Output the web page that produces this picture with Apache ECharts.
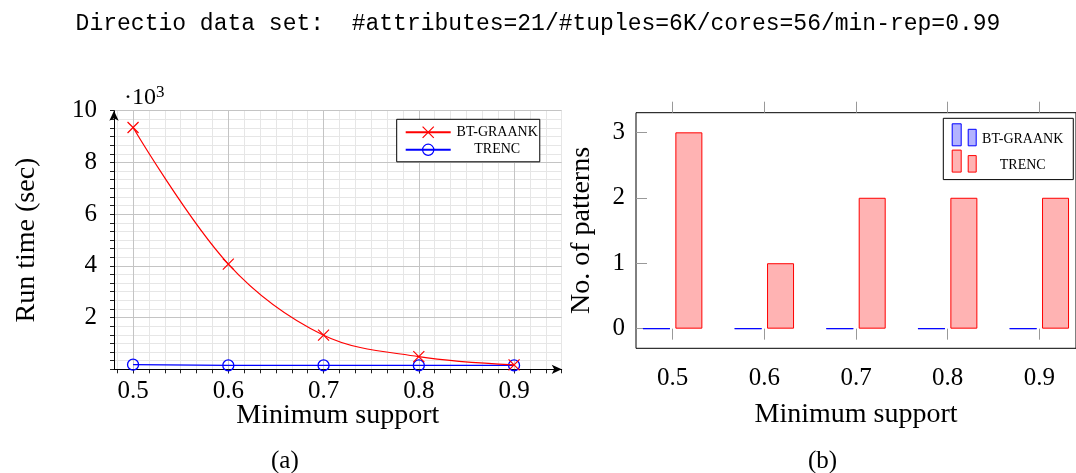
<!DOCTYPE html>
<html>
<head>
<meta charset="utf-8">
<script src="https://cdn.jsdelivr.net/npm/echarts@6/dist/echarts.min.js"></script>
<style>
  html, body { margin: 0; padding: 0; background: #fff; }
  #chart { width: 1076px; height: 473px; }
</style>
</head>
<body>
<div id="chart"></div>
<script>
// Minimum support levels shared by both panels
const minSupport = [0.5, 0.6, 0.7, 0.8, 0.9];
// (a) run time in seconds
const btGraankRunTime = [9350, 4070, 1320, 490, 170];
const trencRunTime = [180, 150, 150, 150, 150];
// (b) number of extracted patterns
const btGraankPatterns = [0, 0, 0, 0, 0];
const trencPatterns = [3, 1, 2, 2, 2];
// tick labels
const runTimeTicks = [2000, 4000, 6000, 8000, 10000];
const patternTicks = [0, 1, 2, 3];
const titleText = 'Directio data set:  #attributes=21/#tuples=6K/cores=56/min-rep=0.99';

const SERIF = '"Liberation Serif", "Times New Roman", serif';
const MONO = '"Liberation Mono", "DejaVu Sans Mono", monospace';

// minor vertical grid lines: six subdivisions per 0.1 step
const minorSupport = [];
for (let k = 29; k <= 57; k++) minorSupport.push(k / 60);

const pairs = (xs, ys) => xs.map((x, i) => [x, ys[i]]);
const barSuffix = ' patterns';

const tickFont = { fontFamily: SERIF, fontSize: 25, color: '#000' };
const nameFont = { fontFamily: SERIF, fontSize: 28, color: '#000' };

const chart = echarts.init(document.getElementById('chart'), null, { renderer: 'canvas' });

chart.setOption({
  animation: false,
  backgroundColor: '#fff',
  title: {
    text: titleText,
    left: 'center',
    top: 7,
    textStyle: { fontFamily: MONO, fontSize: 23, fontWeight: 'normal', color: '#000' }
  },
  grid: [
    { left: 114, top: 110.7, width: 447.7, height: 258.6 },
    { left: 636, top: 112.7, width: 447.7, height: 235.6, show: true, borderColor: '#000', borderWidth: 1 }
  ],
  xAxis: [
    {
      gridIndex: 0, type: 'value', min: 0.48, max: 0.95, position: 'bottom', z: 3,
      axisLine: { show: true, symbol: ['none', 'arrow'], symbolSize: [7, 10], lineStyle: { color: '#000', width: 1 } },
      axisTick: { show: true, customValues: minSupport, length: 4, lineStyle: { color: '#222' } },
      axisLabel: Object.assign({ customValues: minSupport, margin: 10, formatter: v => v.toFixed(1) }, tickFont),
      splitLine: { show: true, lineStyle: { color: '#c4c4c4', width: 1 } },
      name: 'Minimum support', nameLocation: 'middle', nameGap: 32, nameMoveOverlap: false,
      nameTextStyle: nameFont
    },
    {
      gridIndex: 0, type: 'value', min: 0.48, max: 0.95, position: 'bottom', z: 1,
      axisLine: { show: false },
      axisTick: { show: true, customValues: minorSupport, length: 4, lineStyle: { color: '#222' } },
      axisLabel: { show: false },
      splitLine: { show: true, lineStyle: { color: '#e6e6e6', width: 1 } }
    },
    {
      gridIndex: 1, type: 'value', min: 0.46, max: 0.94, position: 'bottom',
      axisLine: { show: false },
      axisTick: { show: true, customValues: minSupport, length: 11, lineStyle: { color: '#999' } },
      axisLabel: Object.assign({ customValues: minSupport, margin: 18, formatter: v => v.toFixed(1) }, tickFont),
      splitLine: { show: false },
      name: 'Minimum support', nameLocation: 'middle', nameGap: 52, nameTextStyle: nameFont
    },
    {
      gridIndex: 1, type: 'value', min: 0.46, max: 0.94, position: 'top',
      axisLine: { show: false },
      axisTick: { show: true, customValues: minSupport, length: 11, lineStyle: { color: '#999' } },
      axisLabel: { show: false },
      splitLine: { show: false }
    }
  ],
  yAxis: [
    {
      gridIndex: 0, type: 'value', min: 0, max: 10000, interval: 2000, z: 2,
      axisLine: { show: true, symbol: ['none', 'arrow'], symbolSize: [7, 10], lineStyle: { color: '#000', width: 1 } },
      axisTick: { show: true, length: 4, lineStyle: { color: '#222' } },
      minorTick: { show: true, splitNumber: 6, length: 4, lineStyle: { color: '#222' } },
      splitLine: { show: true, lineStyle: { color: '#c4c4c4', width: 1 } },
      minorSplitLine: { show: true, lineStyle: { color: '#e6e6e6', width: 1 } },
      axisLabel: Object.assign({ customValues: runTimeTicks, margin: 17, formatter: v => String(v / 1000) }, tickFont),
      name: 'Run time (sec)', nameLocation: 'middle', nameGap: 73, nameTextStyle: nameFont
    },
    {
      // scale factor shown above the run-time axis
      gridIndex: 0, type: 'value', min: 0, max: 10000, position: 'left',
      axisLine: { show: false }, axisTick: { show: false }, axisLabel: { show: false }, splitLine: { show: false },
      name: '{d|·10}{s|3}', nameLocation: 'end', nameGap: 1,
      nameTextStyle: {
        align: 'left', verticalAlign: 'bottom', padding: [0, 0, 0, 10],
        rich: {
          d: { fontFamily: SERIF, fontSize: 24, color: '#000', lineHeight: 26, verticalAlign: 'bottom' },
          s: { fontFamily: SERIF, fontSize: 17, color: '#000', lineHeight: 17, verticalAlign: 'top' }
        }
      }
    },
    {
      gridIndex: 1, type: 'value', min: -0.3, max: 3.3,
      axisLine: { show: false },
      axisTick: { show: true, inside: true, customValues: patternTicks, length: 11, lineStyle: { color: '#999' } },
      axisLabel: Object.assign({ customValues: patternTicks, margin: 11 }, tickFont),
      splitLine: { show: false },
      name: 'No. of patterns', nameLocation: 'middle', nameGap: 40, nameTextStyle: nameFont
    }
  ],
  legend: [
    {
      data: ['BT-GRAANK', 'TRENC'],
      orient: 'vertical', left: 396.7, top: 119.3,
      padding: [6, 2, 5, 8], itemGap: 3.5, itemWidth: 45, itemHeight: 14,
      borderColor: '#000', borderWidth: 1, backgroundColor: '#fff',
      selectedMode: false,
      itemStyle: { borderWidth: 1.2 },
      formatter: n => '{c|' + n + '}',
      textStyle: { fontFamily: SERIF, fontSize: 14, color: '#000',
        rich: { c: { width: 83, align: 'center', fontFamily: SERIF, fontSize: 14, color: '#000' } } }
    },
    {
      data: [
        { name: 'BT-GRAANK' + barSuffix, icon: 'path://M0,0h9v22h-9zM16,5.5h8v16.5h-8z' },
        { name: 'TRENC' + barSuffix, icon: 'path://M0,0h9v22h-9zM16,5.5h8v16.5h-8z' }
      ],
      orient: 'vertical', left: 943.3, top: 118.3,
      padding: [5, 10, 7, 8.4], itemGap: 3.3, itemWidth: 24, itemHeight: 22,
      borderColor: '#000', borderWidth: 1, backgroundColor: '#fff',
      selectedMode: false,
      itemStyle: { borderWidth: 1 },
      formatter: n => '{c|' + n.replace(barSuffix, '') + '}',
      textStyle: { fontFamily: SERIF, fontSize: 14, color: '#000',
        rich: { c: { width: 83, align: 'center', padding: [9, 0, 0, 0], fontFamily: SERIF, fontSize: 14, color: '#000' } } }
    }
  ],
  series: [
    {
      name: 'TRENC', type: 'line', xAxisIndex: 0, yAxisIndex: 0, z: 4,
      data: pairs(minSupport, trencRunTime),
      symbol: 'circle', symbolSize: 11,
      lineStyle: { color: '#0000ff', width: 1.3 },
      itemStyle: { color: 'rgba(255,255,255,0)', borderColor: '#0000ff', borderWidth: 1.3 }
    },
    {
      name: 'BT-GRAANK', type: 'line', xAxisIndex: 0, yAxisIndex: 0, z: 5,
      data: pairs(minSupport, btGraankRunTime),
      smooth: 0.35,
      symbol: 'path://M0,0L10,10M0,10L10,0', symbolSize: 11,
      lineStyle: { color: '#ff0000', width: 1.2 },
      itemStyle: { color: '#ff0000', borderColor: '#ff0000', borderWidth: 1.2 }
    },
    {
      name: 'BT-GRAANK' + barSuffix, type: 'bar', xAxisIndex: 2, yAxisIndex: 2,
      data: pairs(minSupport, btGraankPatterns),
      barWidth: 27, barGap: '20%',
      itemStyle: { color: '#b3b3ff', borderColor: '#0000ff', borderWidth: 1 }
    },
    {
      name: 'TRENC' + barSuffix, type: 'bar', xAxisIndex: 2, yAxisIndex: 2,
      data: pairs(minSupport, trencPatterns),
      barWidth: 27, barGap: '20%',
      itemStyle: { color: '#ffb3b3', borderColor: '#ff0000', borderWidth: 1 }
    }
  ],
  graphic: [
    { type: 'text', left: 271, top: 449, style: { text: '(a)', font: '25px ' + SERIF, fill: '#000' } },
    { type: 'text', left: 808, top: 449, style: { text: '(b)', font: '25px ' + SERIF, fill: '#000' } }
  ]
});
</script>
</body>
</html>
